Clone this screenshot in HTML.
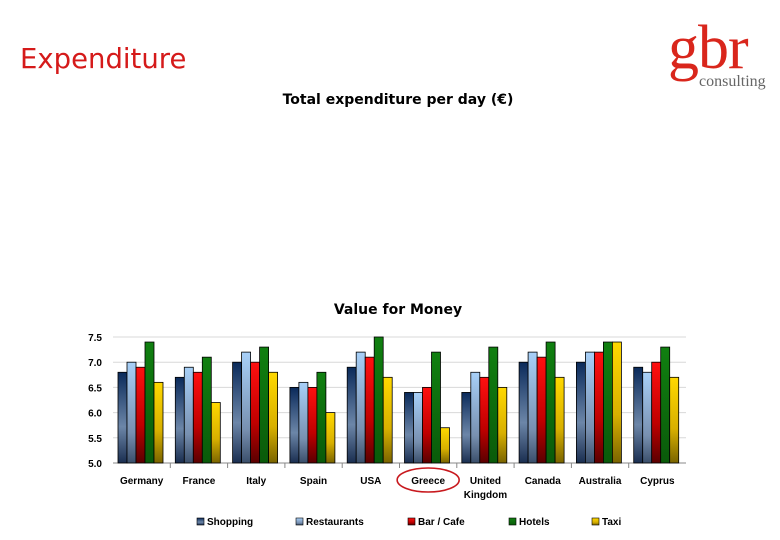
<!DOCTYPE html>
<html><head><meta charset="utf-8"><style>
body{margin:0;width:780px;height:540px;background:#fff;overflow:hidden;position:relative;font-family:"Liberation Sans",sans-serif}
.t{position:absolute;white-space:nowrap}
</style></head><body>
<div class="t" style="left:20px;top:43px;font-family:'DejaVu Sans',sans-serif;font-size:27.5px;color:#d51a1a">Expenditure</div>
<div style="position:absolute;left:668px;top:18px;width:112px;height:75px">
<div class="t" style="left:0;top:2px;font-family:'Liberation Serif',serif;font-size:62px;color:#d9261c;letter-spacing:-1px;line-height:56px">gbr</div>
<div class="t" style="left:31px;top:55px;font-family:'Liberation Serif',serif;font-size:16px;color:#666">consulting</div>
</div>
<div class="t" style="left:0;width:796px;text-align:center;top:92px;font-family:'DejaVu Sans',sans-serif;font-weight:bold;font-size:14px">Total expenditure per day (€)</div>
<div class="t" style="left:0;width:796px;text-align:center;top:302px;font-family:'DejaVu Sans',sans-serif;font-weight:bold;font-size:14px">Value for Money</div>
<svg id="c" width="780" height="540" style="position:absolute;left:0;top:0">
<defs>
<linearGradient id="g0" x1="0" y1="0" x2="0" y2="1"><stop offset="0" stop-color="#0a2a5a"/><stop offset=".6" stop-color="#6c86a8"/><stop offset="1" stop-color="#1a2e50"/></linearGradient>
<linearGradient id="g1" x1="0" y1="0" x2="0" y2="1"><stop offset="0" stop-color="#a8d0f8"/><stop offset=".7" stop-color="#7890b0"/><stop offset="1" stop-color="#3a4e6a"/></linearGradient>
<linearGradient id="g2" x1="0" y1="0" x2="0" y2="1"><stop offset="0" stop-color="#ff1010"/><stop offset=".6" stop-color="#c00000"/><stop offset="1" stop-color="#5a0000"/></linearGradient>
<linearGradient id="g3" x1="0" y1="0" x2="0" y2="1"><stop offset="0" stop-color="#108010"/><stop offset="1" stop-color="#0a5a0a"/></linearGradient>
<linearGradient id="g4" x1="0" y1="0" x2="0" y2="1"><stop offset="0" stop-color="#ffd800"/><stop offset=".6" stop-color="#d8b000"/><stop offset="1" stop-color="#7a6400"/></linearGradient>
</defs>
</svg>
<script>
const categories=["Germany","France","Italy","Spain","USA","Greece","United Kingdom","Canada","Australia","Cyprus"];
const seriesNames=["Shopping","Restaurants","Bar / Cafe","Hotels","Taxi"];
const shopping=[6.8,6.7,7.0,6.5,6.9,6.4,6.4,7.0,7.0,6.9];
const restaurants=[7.0,6.9,7.2,6.6,7.2,6.4,6.8,7.2,7.2,6.8];
const barCafe=[6.9,6.8,7.0,6.5,7.1,6.5,6.7,7.1,7.2,7.0];
const hotels=[7.4,7.1,7.3,6.8,7.5,7.2,7.3,7.4,7.4,7.3];
const taxi=[6.6,6.2,6.8,6.0,6.7,5.7,6.5,6.7,7.4,6.7];
const yTicks=["5.0","5.5","6.0","6.5","7.0","7.5"];
const series=[shopping,restaurants,barCafe,hotels,taxi];
const svg=document.getElementById('c');const NS='http://www.w3.org/2000/svg';
const x0=113,x1=686,yMin=5,yMax=7.5,py0=463,py1=337;
const y=v=>py0-(v-yMin)/(yMax-yMin)*(py0-py1);
const gw=(x1-x0)/categories.length;
function mk(t,a,p){const e=document.createElementNS(NS,t);for(const k in a)e.setAttribute(k,a[k]);(p||svg).appendChild(e);return e;}
yTicks.forEach(t=>{const v=parseFloat(t),yy=y(v);
const l=mk('line',{x1:x0,x2:x1,y1:yy,y2:yy,stroke:v===yMin?'#888':'#d8d8d8','stroke-width':1});


const tx=mk('text',{x:102,y:yy+4,'text-anchor':'end','font-size':10,'font-weight':'bold','font-family':'Liberation Sans'});tx.textContent=t;

});
categories.forEach((c,i)=>{const gx=x0+i*gw;
if(i>0){const tk=mk('line',{x1:gx,x2:gx,y1:py0,y2:py0+5,stroke:'#888'});}
series.forEach((s,j)=>{const bx=gx+5+j*9,by=y(s[i]);
const r=mk('rect',{x:bx,y:by,width:9,height:py0-by,fill:'url(#g'+j+')',stroke:'#000','stroke-width':0.8});

});
const parts=c.split(' ');
parts.forEach((p,k)=>{const tx=mk('text',{x:gx+gw/2,y:484+k*14,'text-anchor':'middle','font-size':10,'font-weight':'bold','font-family':'Liberation Sans'});tx.textContent=p;

});
if(c==="Greece"){const el=mk('ellipse',{cx:gx+gw/2,cy:480,rx:31,ry:12,fill:'none',stroke:'#c8191e','stroke-width':1.6});}
});
const lx=[197,296,408,509,592];
seriesNames.forEach((n,j)=>{const r=mk('rect',{x:lx[j],y:518,width:7,height:7,fill:'url(#g'+j+')',stroke:'#000','stroke-width':0.6});


const t=mk('text',{x:lx[j]+10,y:525,'font-size':10,'font-weight':'bold','font-family':'Liberation Sans'});t.textContent=n;

});
</script>
</body></html>
